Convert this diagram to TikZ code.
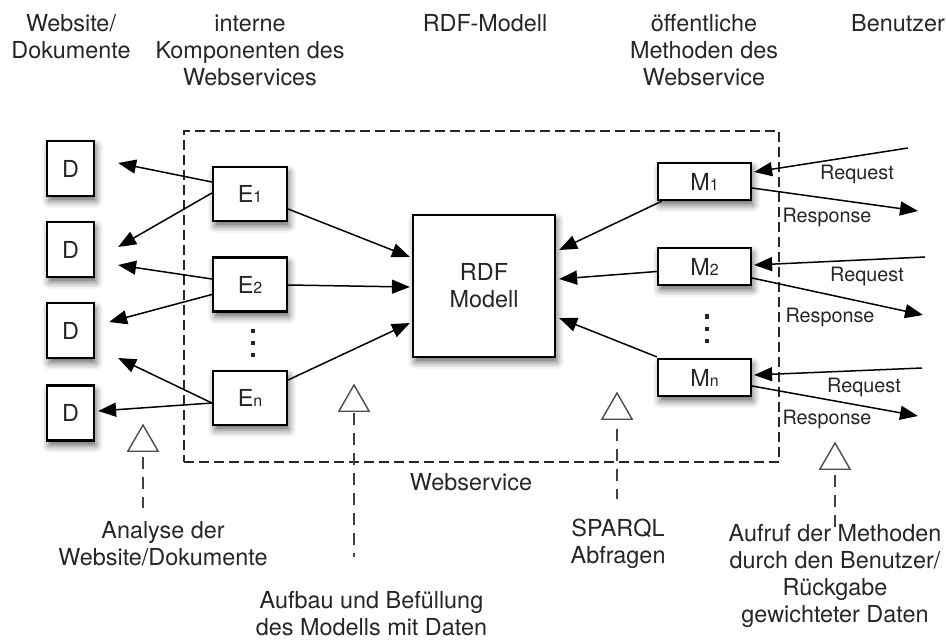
\documentclass[tikz,border=0pt]{standalone}
\usepackage{fontspec}
\setmainfont{TeX Gyre Heros}
\usetikzlibrary{arrows.meta,shapes.geometric,shadows.blur}

\newcommand{\subidx}[1]{{\fontsize{8}{8}\selectfont #1}}

\tikzset{
  every node/.style={font=\fontsize{11.7}{13.5}\selectfont, text=black!85},
  base/.style={draw=black, line width=1.1pt, fill=white, inner sep=0pt, align=center,
    blur shadow={shadow xshift=1pt, shadow yshift=-2.5pt, shadow blur radius=3.5pt, shadow opacity=60}},
  docbox/.style={base, minimum width=23.5pt, minimum height=27.5pt},
  compbox/.style={base, minimum width=37pt, minimum height=27pt},
  methbox/.style={base, minimum width=46.5pt, minimum height=18.5pt},
  modelbox/.style={base, minimum width=71pt, minimum height=71pt},
  wsframe/.style={draw=black!85, line width=.7pt, dash pattern=on 5pt off 2.5pt,
    minimum width=297.5pt, minimum height=165.5pt, inner sep=0pt},
  arr/.style={draw=black, line width=.75pt, -{Triangle[length=9pt,width=7pt]}},
  dline/.style={draw=black!75, line width=.7pt, dash pattern=on 6pt off 4pt},
  trimark/.style={draw=black!70, line width=.7pt, regular polygon, regular polygon sides=3,
    minimum size=17.5pt, inner sep=0pt, outer sep=0pt},
  lbl/.style={align=center, inner sep=0pt},
  msg/.style={font=\fontsize{9.9}{11}\selectfont, inner sep=0pt}
}

\begin{document}
\begin{tikzpicture}[x=0.5pt,y=-0.5pt]
  \useasboundingbox (0,0) rectangle (946,641);

  % column headings
  \node[lbl] (hDoc) at (71,36.5) {Website/\\Dokumente};
  \node[lbl] (hComp) at (250,50) {interne\\Komponenten des\\Webservices};
  \node[lbl] (hModel) at (485,23) {RDF-Modell};
  \node[lbl] (hMeth) at (704,50) {öffentliche\\Methoden des\\Webservice};
  \node[lbl] (hUser) at (898,23) {Benutzer};

  % webservice frame
  \node[wsframe] (WS) at (481.5,296.5) {};
  \node[lbl] (wsLabel) at (471,482) {Webservice};

  % documents
  \node[docbox] (D1) at (70.5,168.5) {D};
  \node[docbox] (D2) at (70.5,249.5) {D};
  \node[docbox] (D3) at (70.5,330.5) {D};
  \node[docbox] (D4) at (70.5,413) {D};

  % internal components
  \node[compbox] (E1) at (250,194) {E\subidx{1}};
  \node[compbox] (E2) at (250,284.5) {E\subidx{2}};
  \node[compbox] (En) at (250,398) {E\subidx{n}};
  \coordinate (dE) at (253,343);

  % model
  \node[modelbox] (RDF) at (484,286) {RDF\\Modell};

  % public methods
  \node[methbox] (M1) at (704.5,181.5) {M\subidx{1}};
  \node[methbox] (M2) at (704.5,266.5) {M\subidx{2}};
  \node[methbox] (Mn) at (704.5,377.5) {M\subidx{n}};
  \coordinate (dM) at (707,328.5);

  \foreach \k in {-12,0,12} {
    \fill[black!85] ([shift={(-2,\k-2)}]dE) rectangle +(4,4);
    \fill[black!85] ([shift={(-2,\k-2)}]dM) rectangle +(4,4);
  }

  % components -> documents
  \draw[arr] ([shift={(0,-12)}]E1.west) -- ([shift={(23,-5.5)}]D1.east);
  \draw[arr] ([shift={(0,-1)}]E1.west) -- ([shift={(23,-2.5)}]D2.east);
  \draw[arr] ([shift={(0,-5.5)}]E2.west) -- ([shift={(23,15.5)}]D2.east);
  \draw[arr] ([shift={(0,10)}]E2.west) -- ([shift={(14,-8.5)}]D3.east);
  \draw[arr] ([shift={(0,5)}]En.west) -- ([shift={(23,27.5)}]D3.east);
  \draw[arr] ([shift={(0,5)}]En.west) -- ([shift={(3,-2)}]D4.east);

  % components -> model
  \draw[arr] ([shift={(0,15)}]E1.east) -- ([shift={(-2,-29)}]RDF.west);
  \draw[arr] ([shift={(0,0.5)}]E2.east) -- ([shift={(-2,1)}]RDF.west);
  \draw[arr] ([shift={(0,-18)}]En.east) -- ([shift={(-2,37)}]RDF.west);

  % methods -> model
  \draw[arr] ([shift={(5,0)}]M1.south west) -- ([shift={(3,-36)}]RDF.east);
  \draw[arr] ([shift={(0,5)}]M2.west) -- ([shift={(3,-7)}]RDF.east);
  \draw[arr] ([shift={(0,-1)}]Mn.north west) -- ([shift={(3,32)}]RDF.east);

  % user requests and responses
  \coordinate (q1) at (908,148);
  \coordinate (q2) at (925,257);
  \coordinate (q3) at (922,368);
  \coordinate (s1) at (918,211);
  \coordinate (s2) at (923,315);
  \coordinate (s3) at (918,416);
  \draw[arr] (q1) -- ([shift={(2,-9.5)}]M1.east);
  \draw[arr] (q2) -- ([shift={(2,-1.5)}]M2.east);
  \draw[arr] (q3) -- ([shift={(2,-2.5)}]Mn.east);
  \draw[arr] ([shift={(0,6.5)}]M1.east) -- (s1);
  \draw[arr] ([shift={(0,11.5)}]M2.east) -- (s2);
  \draw[arr] ([shift={(0,8.5)}]Mn.east) -- (s3);
  \node[msg] (rq1) at (857,174) {Request};
  \node[msg] (rs1) at (827,217) {Response};
  \node[msg] (rq2) at (867,276) {Request};
  \node[msg] (rs2) at (830,317) {Response};
  \node[msg] (rq3) at (864,387) {Request};
  \node[msg] (rs3) at (827,419) {Response};

  % annotations
  \node[trimark] (T1) at (143,442.5) {};
  \node[trimark] (T2) at (354,402.5) {};
  \node[trimark] (T3) at (617,410.5) {};
  \node[trimark] (T4) at (835,460.5) {};
  \node[lbl] (aDoc) at (163,543.5) {Analyse der\\Website/Dokumente};
  \node[lbl] (aFill) at (371.5,614) {Aufbau und Befüllung\\des Modells mit Daten};
  \node[lbl] (aQuery) at (618,543.5) {SPARQL\\Abfragen};
  \node[lbl] (aUser) at (835,575.5) {Aufruf der Methoden\\durch den Benutzer/\\Rückgabe\\gewichteter Daten};
  \draw[dline] ([yshift=-3pt]T1.south) -- +(0,51);
  \draw[dline] ([yshift=-1pt]T2.south) -- +(0,144);
  \draw[dline] ([yshift=-5pt]T3.south) -- +(0,70);
  \draw[dline] ([yshift=-3pt]T4.south) -- +(0,52);
\end{tikzpicture}
\end{document}
